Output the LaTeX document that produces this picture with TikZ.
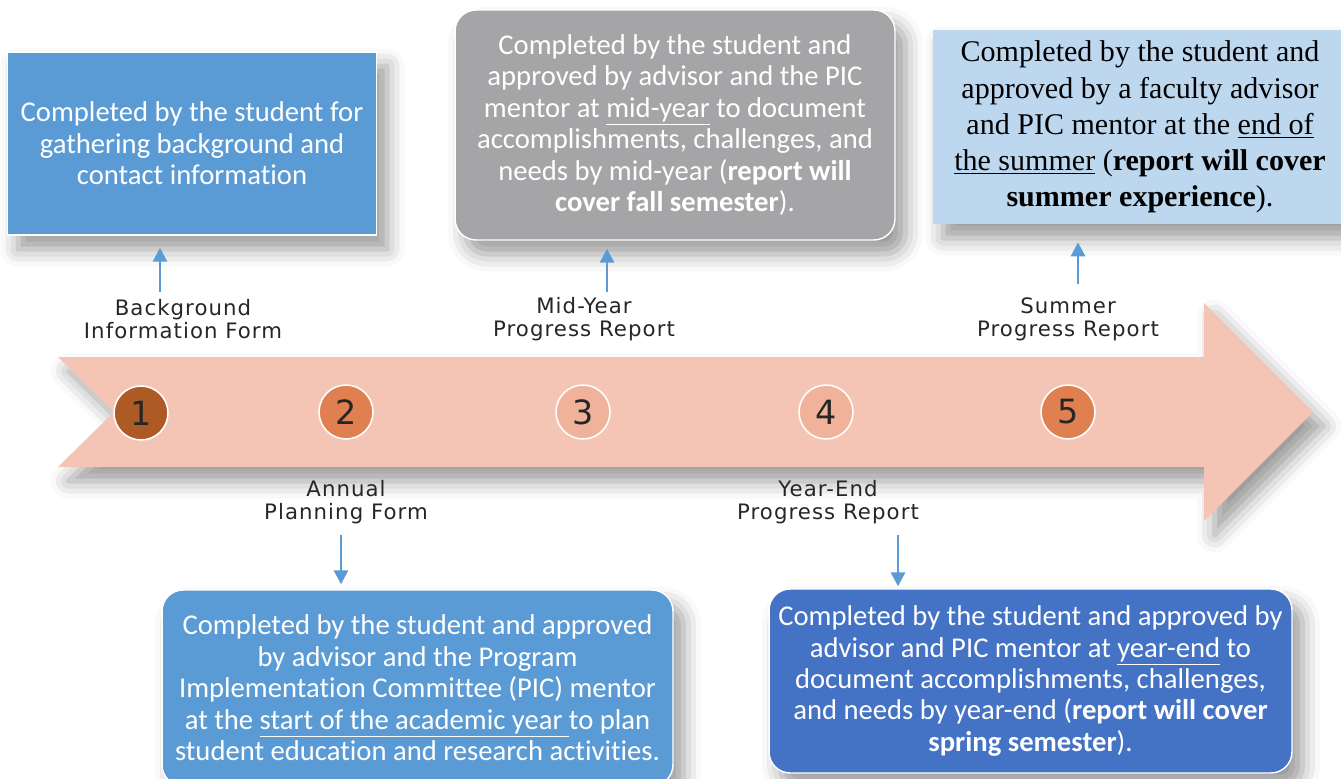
\documentclass[tikz,border=0pt]{standalone}
\usepackage{fontspec}
\setmainfont[Ligatures=NoCommon]{Carlito}
\newfontfamily\summerfont{Liberation Serif}
\newfontfamily\stagefont[LetterSpace=5]{DejaVu Sans}
\usetikzlibrary{arrows.meta, positioning, shadows.blur}

\definecolor{formblue}{HTML}{5B9BD5}
\definecolor{reportgray}{HTML}{A5A5A7}
\definecolor{summerblue}{HTML}{BDD7EE}
\definecolor{yearblue}{HTML}{4472C4}
\definecolor{ribbon}{HTML}{F4C4B5}
\definecolor{stepA}{HTML}{AE5A24}
\definecolor{stepB}{HTML}{E07F4F}
\definecolor{stepC}{HTML}{F0B29B}
\definecolor{inkgray}{HTML}{262626}

\begin{document}
\begin{tikzpicture}[
    x=0.02cm, y=-0.02cm,
    softshadow/.style={blur shadow={shadow xshift=6pt, shadow yshift=-8pt, shadow blur radius=10pt, shadow opacity=40}},
    note/.style={rectangle, draw=white, line width=0.8pt, text=white, align=center, inner sep=0pt,
        font=\fontsize{16.3}{17.9}\selectfont, softshadow},
    roundnote/.style={note, rounded corners=12pt},
    stage/.style={align=center, text=inkgray, font=\stagefont\fontsize{12.1}{13}\selectfont},
    dot/.style={circle, draw=white, line width=0.9pt, minimum size=1.08cm, inner sep=0pt,
        text=inkgray, font=\stagefont\fontsize{19}{19}\selectfont},
    link/.style={-{Triangle[length=8pt, width=8pt]}, line width=1.6pt, formblue}
]
\useasboundingbox (0,0) rectangle (1341,778);

% timeline ribbon
\fill[ribbon, softshadow] (58,357) -- (1204,357) -- (1204,303) -- (1313,412) -- (1204,521)
    -- (1204,467) -- (58,467) -- (114,412) -- cycle;

% numbered steps
\node[dot, fill=stepA] (n1) at (141,413) {1};
\node[dot, fill=stepB] (n2) at (346,412) {2};
\node[dot, fill=stepC] (n3) at (583,412) {3};
\node[dot, fill=stepC] (n4) at (826,412) {4};
\node[dot, fill=stepB] (n5) at (1068,412) {5};

% stage names
\node[stage] (bgform) at (183,319) {Background\\Information Form};
\node[stage] (midrep) at (584,319) {Mid-Year\\Progress Report};
\node[stage] (sumrep) at (1068,319) {Summer\\Progress Report};
\node[stage] (annform) at (346,502) {Annual\\Planning Form};
\node[stage] (endrep) at (828,502) {Year-End\\Progress Report};

% description boxes
\node[note, fill=formblue, minimum width=7.38cm, minimum height=3.66cm] (bginfo) at (192,143.5)
    {Completed by the student for\\gathering background and\\contact information};
\node[roundnote, fill=reportgray, minimum width=8.8cm, minimum height=4.6cm] (midinfo) at (675,125)
    {Completed by the student and\\approved by advisor and the PIC\\mentor at \underline{mid-year} to document\\accomplishments, challenges, and\\needs by mid-year (\textbf{report will}\\\textbf{cover fall semester}).};
\node[rectangle, fill=summerblue, text=black, align=center, inner sep=0pt, softshadow,
    minimum width=8.3cm, minimum height=3.88cm, font=\summerfont\fontsize{17.1}{20.6}\selectfont] (suminfo) at (1140,127)
    {Completed by the student and\\approved by a faculty advisor\\and PIC mentor at the \underline{end of}\\\underline{the summer} (\textbf{report will cover}\\\textbf{summer experience}).};
\node[roundnote, fill=formblue, minimum width=10.22cm, minimum height=3.92cm] (anninfo) at (417.5,688)
    {Completed by the student and approved\\by advisor and the Program\\Implementation Committee (PIC) mentor\\at the \underline{start of the academic year }to plan\\student education and research activities.};
\node[roundnote, fill=yearblue, minimum width=10.46cm, minimum height=3.68cm] (endinfo) at (1030.5,681)
    {Completed by the student and approved by\\advisor and PIC mentor at \underline{year-end} to\\document accomplishments, challenges,\\and needs by year-end (\textbf{report will cover}\\\textbf{spring semester}).};

% pointers from stage names to boxes
\coordinate (p1) at (160,292);
\coordinate (p2) at (607,292);
\coordinate (p3) at (1078,284);
\coordinate (p4) at (341,535);
\coordinate (p5) at (898,535);
\draw[link, shorten >=0.24cm] (p1) -- (p1 |- bginfo.south);
\draw[link, shorten >=0.16cm] (p2) -- (p2 |- midinfo.south);
\draw[link, shorten >=0.36cm] (p3) -- (p3 |- suminfo.south);
\draw[link, shorten >=0.1cm] (p4) -- (p4 |- anninfo.north);
\draw[link, shorten >=0.04cm] (p5) -- (p5 |- endinfo.north);
\end{tikzpicture}
\end{document}
